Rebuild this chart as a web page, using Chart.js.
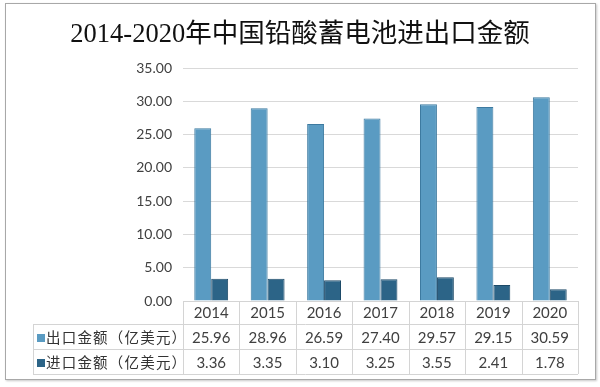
<!DOCTYPE html>
<html>
<head>
<meta charset="utf-8">
<script src="https://cdn.jsdelivr.net/npm/chart.js@4.4.1/dist/chart.umd.min.js"></script>
<style>
  html, body { margin: 0; padding: 0; background: #fff; }
  #wrap { position: relative; width: 600px; height: 387px; overflow: hidden; }
  #frame { position: absolute; left: 5px; top: 3px; width: 589px; height: 375px; border: 1px solid #a8a8a8; box-shadow: 1px 1px 2px #c8c8c8; }
  canvas { position: absolute; left: 0; top: 0; }
  #title { position: absolute; left: 0; top: 16px; width: 600px; text-align: center; font-family: "Liberation Serif", "Noto Sans CJK SC", serif; font-size: 26.5px; color: #111; line-height: 34px; }
  .cell { position: absolute; text-align: center; font-family: Lato, "Noto Sans CJK SC", sans-serif; font-size: 15px; color: #404040; white-space: nowrap; }
  .leg { position: absolute; font-family: "Noto Sans CJK SC", sans-serif; font-size: 14.5px; letter-spacing: 1.2px; color: #333; white-space: nowrap; }
  .sw { display: inline-block; width: 8px; height: 8px; margin-right: 1px; vertical-align: 1px; }
</style>
</head>
<body>
<div id="wrap">
  <div id="frame"></div>
  <canvas id="c" width="600" height="387"></canvas>
  <div id="title">2014-2020年中国铅酸蓄电池进出口金额</div>
  <div id="table"></div>
</div>
<script>
const categories = ["2014", "2015", "2016", "2017", "2018", "2019", "2020"];
const exportValues = [25.96, 28.96, 26.59, 27.40, 29.57, 29.15, 30.59];
const importValues = [3.36, 3.35, 3.10, 3.25, 3.55, 2.41, 1.78];
const seriesNames = ["出口金额（亿美元）", "进口金额（亿美元）"];
const yTicks = [0, 5, 10, 15, 20, 25, 30, 35];

const TABLE_LEFT = 33;
const ROW_H = 25;

function barGradient(ctx, c1, c2, c3) {
  const chart = ctx.chart;
  const el = ctx.element;
  if (!el || el.x === undefined || !el.width) return c2;
  const g = chart.ctx.createLinearGradient(el.x - el.width / 2, 0, el.x + el.width / 2, 0);
  g.addColorStop(0, c1);
  g.addColorStop(0.45, c2);
  g.addColorStop(1, c3);
  return g;
}

const tablePlugin = {
  id: 'tablePlugin',
  afterDraw(chart) {
    const ctx = chart.ctx;
    const area = chart.chartArea;
    const n = categories.length;
    const colW = (area.right - area.left) / n;
    const yTop = area.bottom;
    const y1 = yTop + 23;
    const y2 = y1 + ROW_H;
    const y3 = y2 + ROW_H;
    ctx.save();
    ctx.strokeStyle = '#d4d4d4';
    ctx.lineWidth = 1;
    ctx.beginPath();
    [y1, y2, y3].forEach(y => { ctx.moveTo(TABLE_LEFT, Math.round(y) + 0.5); ctx.lineTo(area.right, Math.round(y) + 0.5); });
    ctx.moveTo(area.left, Math.round(yTop) + 0.5); ctx.lineTo(area.right, Math.round(yTop) + 0.5);
    for (let i = 0; i <= n; i++) {
      const x = Math.round(area.left + i * colW) + 0.5;
      ctx.moveTo(x, yTop); ctx.lineTo(x, y3);
    }
    ctx.moveTo(TABLE_LEFT + 0.5, y1); ctx.lineTo(TABLE_LEFT + 0.5, y3);
    ctx.stroke();
    ctx.restore();

    if (chart._tableBuilt) return;
    chart._tableBuilt = true;
    const host = document.getElementById('table');
    const rows = [exportValues, importValues];
    const colors = ['#5a9bc2', '#2c6487'];
    rows.forEach((vals, r) => {
      const top = y1 + r * ROW_H;
      const leg = document.createElement('div');
      leg.className = 'leg';
      leg.style.left = (TABLE_LEFT + 4) + 'px';
      leg.style.top = (top + 1) + 'px';
      leg.style.lineHeight = (ROW_H - 1) + 'px';
      leg.innerHTML = '<span class="sw" style="background:' + colors[r] + '"></span>' + seriesNames[r];
      host.appendChild(leg);
      vals.forEach((v, i) => {
        const d = document.createElement('div');
        d.className = 'cell';
        d.style.left = (area.left + i * colW) + 'px';
        d.style.width = colW + 'px';
        d.style.top = (top + 1) + 'px';
        d.style.lineHeight = ROW_H + 'px';
        d.textContent = v.toFixed(2);
        host.appendChild(d);
      });
    });
  }
};

new Chart(document.getElementById('c'), {
  type: 'bar',
  data: {
    labels: categories,
    datasets: [
      {
        label: seriesNames[0],
        data: exportValues,
        backgroundColor: (ctx) => barGradient(ctx, '#6aaace', '#5a9bc2', '#3f7ea6'),
        borderColor: '#3d7aa0',
        borderWidth: 1,
        categoryPercentage: 0.6,
        barPercentage: 1.0
      },
      {
        label: seriesNames[1],
        data: importValues,
        backgroundColor: (ctx) => barGradient(ctx, '#3f7ba0', '#2c6487', '#1b4664'),
        borderColor: '#1d4a68',
        borderWidth: 1,
        categoryPercentage: 0.6,
        barPercentage: 1.0
      }
    ]
  },
  options: {
    responsive: false,
    animation: false,
    layout: { padding: { left: 0, right: 22, top: 68, bottom: 63 } },
    plugins: {
      legend: { display: false },
      title: { display: false },
      tooltip: { enabled: false }
    },
    scales: {
      x: {
        grid: { display: false, drawTicks: false },
        border: { display: false },
        ticks: {
          padding: 3,
          color: '#404040',
          font: { family: 'Lato', size: 15 }
        },
        afterFit(scale) { scale.height = 23; }
      },
      y: {
        min: 0,
        max: 35,
        afterBuildTicks(scale) { scale.ticks = yTicks.map(v => ({ value: v })); },
        grid: { color: '#d9d9d9', drawTicks: false },
        border: { display: false },
        ticks: {
          padding: 11,
          color: '#404040',
          font: { family: 'Lato', size: 14 },
          callback: (v) => Number(v).toFixed(2)
        },
        afterFit(scale) { scale.width = 183; }
      }
    }
  },
  plugins: [tablePlugin]
});
</script>
</body>
</html>
